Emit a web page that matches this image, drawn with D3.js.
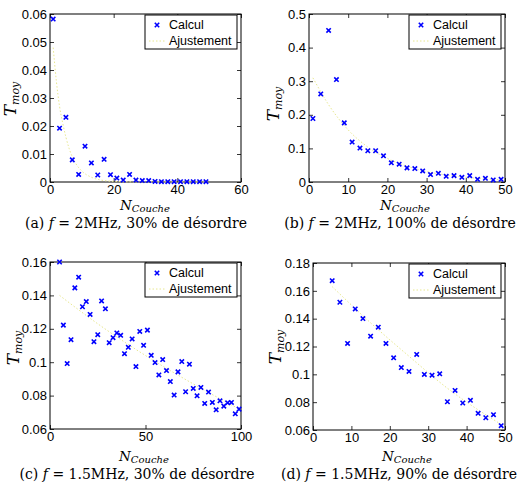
<!DOCTYPE html>
<html lang="en">
<head>
<meta charset="UTF-8">
<title>Tmoy vs NCouche</title>
<script src="https://d3js.org/d3.v7.min.js"></script>
<style>
    body { margin: 0; background: #ffffff; }
    svg text { fill: #000; }
    .tick-label { font-family: 'Liberation Sans', Arial, sans-serif; font-size: 13px; }
    .legend-text { font-family: 'Liberation Sans', Arial, sans-serif; font-size: 12.5px; }
    .math { font-family: 'DejaVu Serif', 'Liberation Serif', serif; font-style: italic; }
    .caption { font-family: 'DejaVu Serif', 'Liberation Serif', serif; font-size: 14px; }
</style>
</head>
<body>
<svg id="chart" width="517" height="489"></svg>
<script>
// (a) f = 2MHz, 30%
const xA = [1,3,5,7,9,11,13,15,17,19,21,23,25,27,29,31,33,35,37,39,41,43,45,47,49];
const calcA = [0.0582,0.0192,0.0231,0.0079,0.0027,0.0128,0.0068,0.0025,0.0081,0.0026,0.0014,0.0007,0.0027,0.0007,0.0005,0.0005,0.0002,0.0001,0.0001,0.0001,0.0001,0.0001,0.0001,0.0001,0.0001];
const fitXA = [1,2,3,4,5,6,8,10,13,16,20,30,49];
const fitA = [0.048,0.036,0.027,0.021,0.016,0.012,0.0068,0.0039,0.0017,0.0007,0.00023,0.00001,0];

// (b) f = 2MHz, 100%
const xB = [1,3,5,7,9,11,13,15,17,19,21,23,25,27,29,31,33,35,37,39,41,43,45,47,49];
const calcB = [0.189,0.262,0.451,0.305,0.176,0.119,0.101,0.093,0.093,0.078,0.057,0.053,0.042,0.040,0.033,0.022,0.026,0.017,0.019,0.014,0.019,0.008,0.011,0.006,0.008];
const fitXB = [1,5,10,15,20,25,30,35,40,45,49];
const fitB = [0.31,0.23,0.155,0.104,0.07,0.047,0.031,0.021,0.014,0.0093,0.0068];

// (c) f = 1.5MHz, 30%
const xC = [5,7,9,11,13,15,17,19,21,23,25,27,29,31,33,35,37,39,41,43,45,47,49,51,53,55,57,59,61,63,65,67,69,71,73,75,77,79,81,83,85,87,89,91,93,95,97,99];
const calcC = [0.160,0.1222,0.0992,0.1135,0.1445,0.1509,0.1332,0.1363,0.1286,0.1123,0.1165,0.1367,0.1320,0.1117,0.1147,0.1175,0.1161,0.1051,0.1089,0.1139,0.0974,0.1184,0.1101,0.1192,0.1041,0.0998,0.0924,0.1016,0.0950,0.0884,0.0803,0.0942,0.1004,0.0823,0.0988,0.0843,0.0799,0.0849,0.0753,0.0821,0.0759,0.0715,0.0769,0.0737,0.0757,0.0759,0.0691,0.0719];
const fitXC = [5,25,50,75,99];
const fitC = [0.140,0.123,0.104,0.087,0.072];

// (d) f = 1.5MHz, 90%
const xD = [5,7,9,11,13,15,17,19,21,23,25,27,29,31,33,35,37,39,41,43,45,47,49];
const calcD = [0.1673,0.1518,0.1222,0.1470,0.1401,0.1274,0.1339,0.1222,0.1119,0.1049,0.1021,0.1143,0.0999,0.0994,0.1004,0.0803,0.0884,0.0794,0.0813,0.0720,0.0688,0.0710,0.0631];
const fitXD = [5,15,25,35,49];
const fitD = [0.163,0.137,0.113,0.090,0.064];

// tick labels
const xTicksA = [0,20,40,60],   yTicksA = [0,0.01,0.02,0.03,0.04,0.05,0.06];
const xTicksB = [0,10,20,30,40,50], yTicksB = [0,0.1,0.2,0.3,0.4,0.5];
const xTicksC = [0,50,100],     yTicksC = [0.06,0.08,0.1,0.12,0.14,0.16];
const xTicksD = [0,10,20,30,40,50], yTicksD = [0.06,0.08,0.1,0.12,0.14,0.16,0.18];

const captions = [
    ['(a)', '2MHz, 30% de désordre'],
    ['(b)', '2MHz, 100% de désordre'],
    ['(c)', '1.5MHz, 30% de désordre'],
    ['(d)', '1.5MHz, 90% de désordre']
];

const svg = d3.select('#chart');
const blue = '#0000ff';
const fitColor = '#e8e890';

const panels = [
    { box: [50, 241, 14, 182], xd: [0, 60], yd: [0, 0.06], xt: xTicksA, yt: yTicksA, x: xA, y: calcA, fx: fitXA, fy: fitA,
      ylab: [16, 99], xlab: [145, 210], cap: [136, 228] },
    { box: [309, 505, 14, 182], xd: [0, 50], yd: [0, 0.5], xt: xTicksB, yt: yTicksB, x: xB, y: calcB, fx: fitXB, fy: fitB,
      ylab: [279, 104], xlab: [405, 210], cap: [400, 228] },
    { box: [50, 241, 262, 429], xd: [0, 100], yd: [0.06, 0.16], xt: xTicksC, yt: yTicksC, x: xC, y: calcC, fx: fitXC, fy: fitC,
      ylab: [19, 348], xlab: [144, 461], cap: [137, 479] },
    { box: [313, 505, 263, 430], xd: [0, 50], yd: [0.06, 0.18], xt: xTicksD, yt: yTicksD, x: xD, y: calcD, fx: fitXD, fy: fitD,
      ylab: [281, 347], xlab: [407, 461], cap: [399, 479] }
];

panels.forEach((p, i) => {
    const [l, r, t, b] = p.box;
    const xs = d3.scaleLinear().domain(p.xd).range([l, r]);
    const ys = d3.scaleLinear().domain(p.yd).range([b, t]);
    const g = svg.append('g');

    // frame with inward ticks on all sides
    g.append('g').attr('transform', `translate(0,${b})`)
        .call(d3.axisBottom(xs).tickValues(p.xt).tickSizeInner(-4).tickSizeOuter(0).tickPadding(3).tickFormat(d3.format('~g')));
    g.append('g').attr('transform', `translate(0,${t})`)
        .call(d3.axisTop(xs).tickValues(p.xt).tickSizeInner(-4).tickSizeOuter(0).tickFormat(''));
    g.append('g').attr('transform', `translate(${l},0)`)
        .call(d3.axisLeft(ys).tickValues(p.yt).tickSizeInner(-4).tickSizeOuter(0).tickPadding(3).tickFormat(d3.format('~g')));
    g.append('g').attr('transform', `translate(${r},0)`)
        .call(d3.axisRight(ys).tickValues(p.yt).tickSizeInner(-4).tickSizeOuter(0).tickFormat(''));
    g.selectAll('.domain').remove();
    g.selectAll('.tick line').attr('stroke', '#000').attr('stroke-width', 0.8);
    g.selectAll('.tick text').attr('class', 'tick-label').attr('font-size', null).attr('font-family', null).attr('fill', '#000');
    g.append('rect').attr('x', l).attr('y', t).attr('width', r - l).attr('height', b - t)
        .attr('fill', 'none').attr('stroke', '#000').attr('stroke-width', 1);

    // fit line
    const fitPts = p.fx.map((v, k) => [v, p.fy[k]]);
    g.append('path').datum(fitPts)
        .attr('d', d3.line().x(d => xs(d[0])).y(d => ys(d[1])).curve(d3.curveMonotoneX))
        .attr('fill', 'none').attr('stroke', fitColor).attr('stroke-width', 1)
        .attr('stroke-dasharray', '1.5,2');

    // calc markers
    const pts = p.x.map((v, k) => [v, p.y[k]]);
    const s = 2.2;
    g.selectAll('path.mk').data(pts).enter().append('path').attr('class', 'mk')
        .attr('d', d => {
            const cx = xs(d[0]), cy = ys(d[1]);
            return `M${cx - s},${cy - s}L${cx + s},${cy + s}M${cx - s},${cy + s}L${cx + s},${cy - s}`;
        })
        .attr('stroke', blue).attr('stroke-width', 1.6).attr('fill', 'none');

    // legend
    const lx = r - 96, ly = t + 1;
    const lg = g.append('g').attr('transform', `translate(${lx},${ly})`);
    lg.append('rect').attr('width', 92).attr('height', 34).attr('fill', '#fff').attr('stroke', '#000').attr('stroke-width', 1);
    lg.append('path').attr('d', `M${12 - s},${10 - s}L${12 + s},${10 + s}M${12 - s},${10 + s}L${12 + s},${10 - s}`)
        .attr('stroke', blue).attr('stroke-width', 1.6);
    lg.append('text').attr('class', 'legend-text').attr('x', 24).attr('y', 14).text('Calcul');
    lg.append('line').attr('x1', 4).attr('x2', 21).attr('y1', 26).attr('y2', 26)
        .attr('stroke', fitColor).attr('stroke-dasharray', '1.5,2');
    lg.append('text').attr('class', 'legend-text').attr('x', 24).attr('y', 30).text('Ajustement');

    // y label T_moy
    const yl = g.append('text').attr('class', 'math')
        .attr('transform', `translate(${p.ylab[0]},${p.ylab[1]}) rotate(-90)`)
        .attr('text-anchor', 'middle');
    yl.append('tspan').attr('font-size', 17).text('T');
    yl.append('tspan').attr('font-size', 11).attr('dy', 3).text('moy');

    // x label N_Couche
    const xl = g.append('text').attr('class', 'math')
        .attr('x', p.xlab[0]).attr('y', p.xlab[1]).attr('text-anchor', 'middle');
    xl.append('tspan').attr('font-size', 13.5).text('N');
    xl.append('tspan').attr('font-size', 10).attr('dy', 2).text('Couche');

    // caption
    const cp = g.append('text').attr('class', 'caption')
        .attr('x', p.cap[0]).attr('y', p.cap[1]).attr('text-anchor', 'middle');
    cp.append('tspan').text(captions[i][0] + ' ');
    cp.append('tspan').attr('font-style', 'italic').text('f');
    cp.append('tspan').text(' = ' + captions[i][1]);
});
</script>
</body>
</html>
